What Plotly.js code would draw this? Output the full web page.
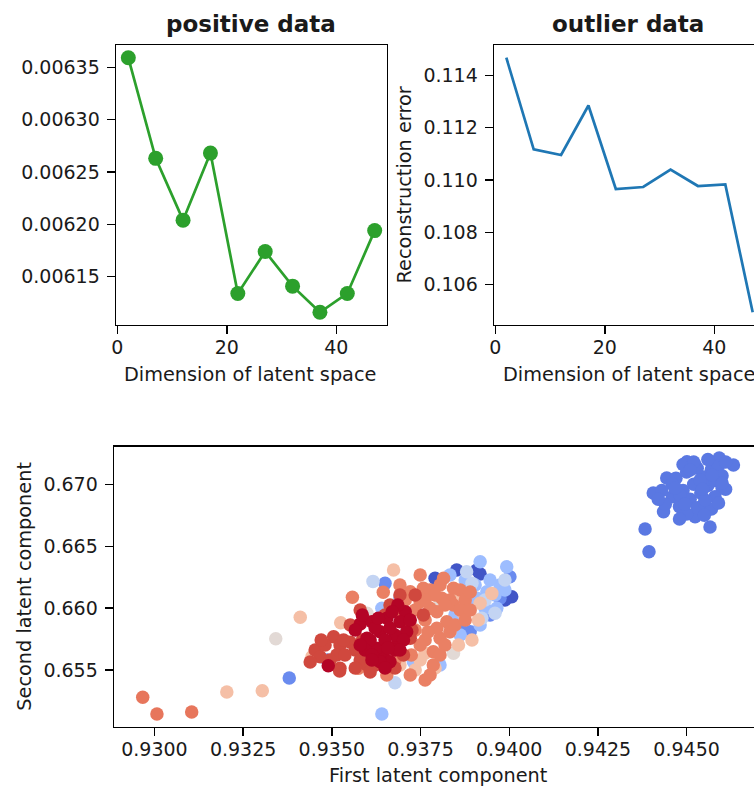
<!DOCTYPE html>
<html><head><meta charset="utf-8">
<script src="https://cdn.plot.ly/plotly-3.0.1.min.js"></script>
<style>html,body{margin:0;padding:0;background:#fff;overflow:hidden}#chart{width:754px;height:787px}</style>
</head><body><div id="chart"></div><script>
// ---- top panels: reconstruction error vs latent dimension ----
const dims = [2, 7, 12, 17, 22, 27, 32, 37, 42, 47];
const positiveErr = [0.006359, 0.006263, 0.006204, 0.006268, 0.006134, 0.006174, 0.006141, 0.006116, 0.006134, 0.006194];
const outlierErr = [0.114669, 0.111164, 0.110952, 0.112843, 0.109652, 0.109728, 0.110397, 0.109766, 0.10983, 0.104941];

// ---- bottom panel: latent space scatter, grouped by colour value ----
const outlierX = [0.94592,0.94632,0.94501,0.94524,0.94444,0.94406,0.94435,0.94524,0.94566,0.94383,0.94394,
  0.9447,0.9450,0.9452,0.9455,0.9457,0.9459,0.9461,0.9449,0.9446,0.9444,0.9448,0.9451,0.9454,0.9456,0.9458,0.9460,0.9460,
  0.9453,0.9450,0.9455,0.9458,0.9461,0.9457,0.9453,0.9449,0.9446,0.9443,0.9442,0.9460,0.9452,0.9456,0.9459,0.9448,0.9455,
  0.94538,0.94482,0.94552,0.94510,0.94468,0.94572,0.94495,0.94545];
const outlierY = [0.67212,0.67156,0.67183,0.67156,0.67051,0.66930,0.66779,0.66738,0.66655,0.66639,0.66456,
  0.6705,0.6710,0.6700,0.6706,0.6712,0.6715,0.6718,0.6695,0.6690,0.6684,0.6682,0.6688,0.6693,0.6699,0.6703,0.6707,0.6697,
  0.6681,0.6676,0.6685,0.6690,0.6696,0.6680,0.6713,0.6716,0.6700,0.6695,0.6688,0.6701,0.6718,0.6720,0.6685,0.6672,0.6675,
  0.67035,0.66914,0.66873,0.67116,0.66970,0.67075,0.66840,0.66960];

const darkBlueX = [0.93791,0.93852,0.93909,0.94007,0.93918,0.93988];
const darkBlueY = [0.66241,0.66308,0.66308,0.66092,0.66275,0.66065];

const blueX = [0.94002,0.93974,0.93890,0.93650,0.93380,0.93946,0.93862,0.93487];
const blueY = [0.66254,0.66079,0.65809,0.66200,0.65435,0.65944,0.65863,0.65581];

const lightBlueX = [0.93918,0.93993,0.93965,0.93909,0.93862,0.93937,0.93833,0.93641,0.93692,0.93641,0.93974,0.93890,0.93847,0.93918,0.93805,0.93730,
  0.93946,0.93904,0.93960,0.93932,0.93876,0.93988];
const lightBlueY = [0.66375,0.66334,0.65998,0.66079,0.65783,0.66132,0.66267,0.65145,0.66079,0.65998,0.66187,0.66025,0.65944,0.65863,0.65540,0.65567,
  0.66227,0.66187,0.66106,0.65998,0.66227,0.66146];

const paleBlueX = [0.93880,0.93960,0.93923,0.93895,0.93616,0.93678,0.93988,0.93932];
const paleBlueY = [0.66294,0.65958,0.65918,0.66200,0.66216,0.65397,0.66227,0.66065];

const greyX = [0.93843,0.93599,0.93342,0.93805,0.93833];
const greyY = [0.65635,0.65958,0.65753,0.66065,0.65807];

const lightSalmonX = [0.93204,0.93304,0.93411,0.93525,0.93674,0.93444,0.93918,0.93951,0.93895,0.93857,0.93913,0.93871,0.93735,0.93763,0.93749,0.93692,0.93791,0.93847];
const lightSalmonY = [0.65322,0.65333,0.65926,0.65882,0.66308,0.65607,0.66039,0.66119,0.65742,0.65702,0.65904,0.65958,0.65500,0.65635,0.65581,0.65540,0.65516,0.66106];

const salmonX = [0.93558,0.93645,0.93575,0.93655,0.93721,0.93815,0.93843,0.93810,0.93796,0.93824,0.93805,0.93786,0.93758,0.93749,0.93777,0.93843,0.93833,0.93786,0.93796,0.93763,
  0.93735,0.93777,0.93805,0.93833,0.93862,0.93876,0.93819,0.93763,0.93735,0.93707,0.93692,0.93763,0.93721,0.93678,0.93890,0.93862,0.93749,0.93692,
  0.93847,0.93876,0.93819,0.93791,0.93763,0.93890,0.93749,0.93777,0.93805,0.93724,0.93771];
const salmonY = [0.66087,0.66128,0.65514,0.65460,0.66132,0.66241,0.66160,0.66079,0.65971,0.65890,0.65756,0.65648,0.66160,0.66052,0.65998,0.66025,0.65809,0.65540,0.65837,0.65904,
  0.65985,0.66146,0.66187,0.66065,0.66146,0.66065,0.65702,0.65742,0.65823,0.66065,0.65985,0.65419,0.65460,0.65581,0.66130,0.65985,0.66267,0.66187,
  0.65863,0.65904,0.66025,0.66106,0.66065,0.65985,0.65702,0.65460,0.65621,0.65621,0.65807];

const farLeftX = [0.92967,0.93007,0.93105];
const farLeftY = [0.65280,0.65145,0.65161];

const redX = [0.93453,0.93505,0.93523,0.93552,0.93467,0.93514,0.93523,0.93599,0.93650,0.93702,0.93721,0.93758,0.93726,0.93533,0.93522,0.93566,0.93586,0.93439,0.93481,0.93580,
  0.93622,0.93678,0.93707,0.93735,0.93692,0.93664,0.93580,0.93552,
  0.93495,0.93537,0.93566,0.93608,0.93470];
const redY = [0.65662,0.65769,0.65702,0.65724,0.65607,0.65621,0.65514,0.65540,0.65944,0.65621,0.65756,0.65944,0.65823,0.65742,0.65492,0.65662,0.65742,0.65565,0.65702,0.65581,
  0.65540,0.65516,0.65904,0.66106,0.66106,0.66025,0.65985,0.65863,
  0.65581,0.65621,0.65516,0.65484,0.65742];

const darkRedX = [0.93580,0.93490,0.93707,0.93692,0.93636,0.93599,0.93645,0.93664,0.93626,0.93683,0.93711,0.93613,0.93655,0.93678,0.93636,0.93608,0.93650,0.93664,0.93622,0.93594,
  0.93613,0.93678,0.93702,0.93721,0.93686,0.93566,0.93650,
  0.93586,0.93670,0.93613,0.93692,0.93580,0.93658,0.93631];
const darkRedY = [0.65872,0.65535,0.65971,0.65890,0.65809,0.65756,0.65621,0.65567,0.65675,0.65702,0.65809,0.65890,0.65918,0.65783,0.65567,0.65742,0.65742,0.65839,0.65839,0.65662,
  0.65621,0.65662,0.65742,0.65904,0.66025,0.65823,0.65516,
  0.65944,0.65971,0.65581,0.65662,0.65702,0.65678,0.65918];

// colour value (0..1 on the coolwarm map) of each group, in drawing order
const groupValues = [0.1, 0.02, 0.15, 0.3, 0.42, 0.52, 0.64, 0.8, 0.82, 0.92, 1.0];
const groupXs = [outlierX, darkBlueX, blueX, lightBlueX, paleBlueX, greyX, lightSalmonX, salmonX, farLeftX, redX, darkRedX];
const groupYs = [outlierY, darkBlueY, blueY, lightBlueY, paleBlueY, greyY, lightSalmonY, salmonY, farLeftY, redY, darkRedY];

let sx = [], sy = [], sc = [];
groupXs.forEach((gx, i) => {
  sx = sx.concat(gx); sy = sy.concat(groupYs[i]);
  sc = sc.concat(gx.map(() => groupValues[i]));
});

const coolwarm = [[0,'#3b4cc0'],[0.0625,'#4e68d7'],[0.125,'#6282ea'],[0.1875,'#7699f6'],[0.25,'#8caffe'],
  [0.3125,'#a1c0ff'],[0.375,'#b5cdfa'],[0.4375,'#c9d7f0'],[0.5,'#dddcdc'],[0.5625,'#ecd3c5'],[0.625,'#f5c4ac'],
  [0.6875,'#f7b194'],[0.75,'#f39a7b'],[0.8125,'#e8795e'],[0.875,'#dc5d4a'],[0.9375,'#cc4039'],[1,'#b40426']];

const FONT = 'DejaVu Sans, Liberation Sans, sans-serif';
const TXT = '#1a1a1a';

const traces = [
  {x: dims, y: positiveErr, xaxis: 'x', yaxis: 'y', type: 'scatter', mode: 'lines+markers',
   line: {color: '#2ca02c', width: 2.7}, marker: {color: '#2ca02c', size: 15}, hoverinfo: 'x+y'},
  {x: dims, y: outlierErr, xaxis: 'x2', yaxis: 'y2', type: 'scatter', mode: 'lines',
   line: {color: '#1f77b4', width: 2.7}, hoverinfo: 'x+y'},
  {x: sx, y: sy, xaxis: 'x3', yaxis: 'y3', type: 'scatter', mode: 'markers',
   marker: {color: sc, colorscale: coolwarm, cmin: 0, cmax: 1, size: 13.5, opacity: 1, line: {width: 0}, showscale: false},
   hoverinfo: 'x+y'}
];

const ax = (o) => Object.assign({
  showline: true, linecolor: '#000', linewidth: 1.4, ticks: 'outside', ticklen: 8, tickwidth: 1.4,
  tickcolor: '#000', showgrid: false, zeroline: false, fixedrange: true, ticklabelstandoff: 3,
  tickfont: {family: FONT, size: 19, color: TXT}
}, o);

const yTop = [0.58704, 0.94282];
const layout = {
  width: 754, height: 787, margin: {l: 0, r: 0, t: 0, b: 0},
  paper_bgcolor: '#fff', plot_bgcolor: '#fff', showlegend: false,
  font: {family: FONT, size: 19, color: TXT},
  xaxis: ax({domain: [0.15385, 0.51326], anchor: 'y', range: [-0.25, 49.25], tick0: 0, dtick: 20, mirror: true, ticklabelstandoff: -3}),
  yaxis: ax({domain: yTop, anchor: 'x', range: [0.0061039, 0.0063712], tick0: 0, dtick: 0.00005, tickformat: '.5f', mirror: true}),
  xaxis2: ax({domain: [0.65517, 1], anchor: 'y2', range: [-0.25, 47.24], tick0: 0, dtick: 20, mirror: true, ticklabelstandoff: -3}),
  yaxis2: ax({domain: yTop, anchor: 'x2', range: [0.104455, 0.115155], tick0: 0, dtick: 0.002, tickformat: '.3f'}),
  xaxis3: ax({domain: [0.15119, 1], anchor: 'y3', range: [0.92886, 0.94690], tick0: 0.93, dtick: 0.0025, tickformat: '.4f', mirror: true, ticklabelstandoff: -3}),
  yaxis3: ax({domain: [0.07662, 0.43240], anchor: 'x3', range: [0.65042, 0.67304], tick0: 0, dtick: 0.005, tickformat: '.3f'}),
  annotations: [
    {text: '<b>positive data</b>', x: 0.33223, y: 0.96950, size: 23},
    {text: '<b>outlier data</b>', x: 0.83249, y: 0.96950, size: 23},
    {text: 'Dimension of latent space', x: 0.33156, y: 0.52414},
    {text: 'Dimension of latent space', x: 0.83488, y: 0.52414},
    {text: 'Reconstruction error', x: 0.53647, y: 0.76493, textangle: -90},
    {text: 'Second latent component', x: 0.03316, y: 0.25451, textangle: -90},
    {text: 'First latent component', x: 0.58157, y: 0.01398}
  ].map(a => ({
    text: a.text, x: a.x, y: a.y, textangle: a.textangle || 0,
    xref: 'paper', yref: 'paper', xanchor: 'center', yanchor: 'middle', showarrow: false,
    font: {family: FONT, size: a.size || 19.3, color: TXT}
  }))
};

Plotly.newPlot('chart', traces, layout, {displayModeBar: false, staticPlot: true});
</script></body></html>
